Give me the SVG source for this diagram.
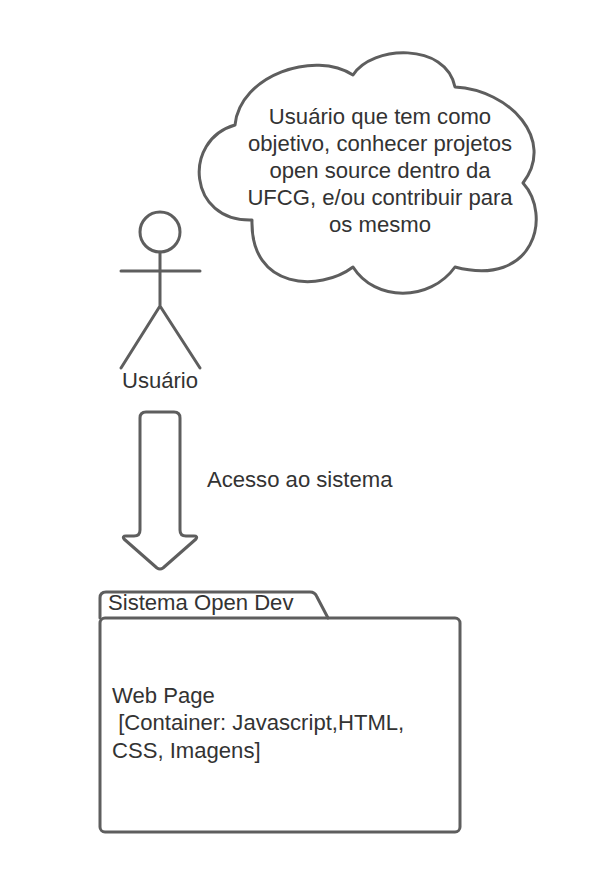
<svg xmlns="http://www.w3.org/2000/svg" width="597" height="872" viewBox="0 0 597 872">
<style>
.s{fill:none;stroke:#5e5e5e;stroke-width:3;stroke-linejoin:round;stroke-linecap:round}
.w{fill:#fff}
text{font-family:"Liberation Sans",Arial,sans-serif;font-size:22.1px;fill:#333}
.c{text-anchor:middle}
</style>
<rect width="597" height="872" fill="#fff"/>
<g id="cloud">
<path class="s w" d="M235 125C240 75 315 50 353 75C372 45 446 42 455 87C510 90 556 140 523 183C552 215 535 288 455 267C430 302 375 302 353 267C320 292 250 290 252 220C188 222 182 140 235 125Z"/>
<text class="c" x="380" y="124">Usuário que tem como</text>
<text class="c" x="380" y="151">objetivo, conhecer projetos</text>
<text class="c" x="380" y="178">open source dentro da</text>
<text class="c" x="380" y="205">UFCG, e/ou contribuir para</text>
<text class="c" x="380" y="232">os mesmo</text>
</g>
<g id="actor">
<circle class="s" cx="160" cy="232" r="20"/>
<path class="s" d="M160 252V306M121 271H200M121 368L160 306L200 368"/>
<text class="c" x="160" y="388">Usuário</text>
</g>
<g id="connectors">
<path class="s" d="M140 418Q140 412 146 412H174Q180 412 180 418V530Q180 536 186 536H194Q198 536 196 539L163 568Q160 570 157 568L124 539Q122 536 126 536H134Q140 536 140 530Z"/>
</g>
<g id="label"><text x="207" y="487">Acesso ao sistema</text></g>
<g id="package">
<path class="s" d="M100 618V598Q100 592 106 592H310Q315 592 317 597L328 618"/>
<rect class="s" x="100" y="618" width="360" height="214" rx="5"/>
<text x="108" y="610">Sistema Open Dev</text>
<text x="112" y="703">Web Page</text>
<text x="112" y="730" xml:space="preserve"> [Container: Javascript,HTML,</text>
<text x="112" y="758">CSS, Imagens]</text>
</g>
</svg>
